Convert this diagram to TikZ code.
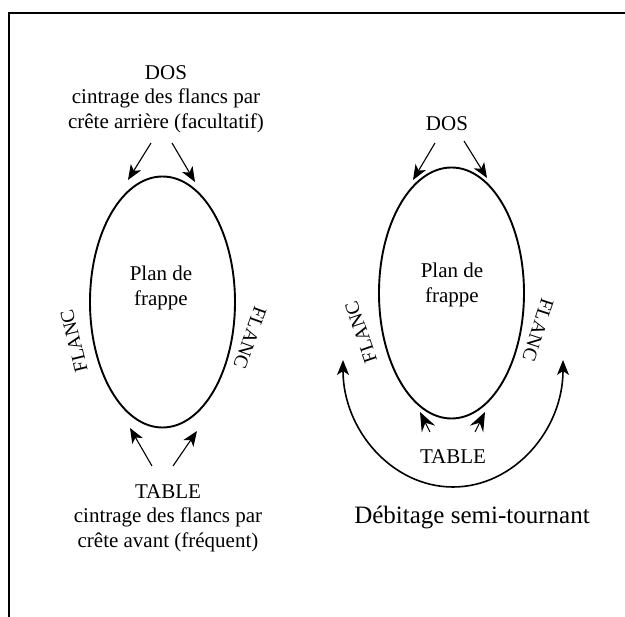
\documentclass[tikz,border=0pt]{standalone}
\usepackage{fontspec}
\setmainfont{Liberation Serif}
\usetikzlibrary{shapes.geometric,arrows.meta,positioning}

\begin{document}
\begin{tikzpicture}[
    x=1pt, y=1pt,
    egg/.style={ellipse, draw=black, line width=1.9pt, minimum width=145pt, minimum height=251pt, inner sep=0pt},
    lbl/.style={font=\fontsize{21}{24.5}\selectfont, align=center, inner sep=0pt},
    flanc/.style={font=\fontsize{19.5}{22}\selectfont, inner sep=0pt},
    arrow/.style={-{Stealth[length=15pt, width=12pt, inset=4pt]}, line width=1.1pt},
    spike/.style={-{Stealth[length=19pt, width=15pt, inset=7pt]}, line width=1.1pt},
    bigarc/.style={{Stealth[length=15pt, width=12pt, inset=4pt]}-{Stealth[length=15pt, width=12pt, inset=4pt]}, line width=1.6pt}
]
    \useasboundingbox (0,0) rectangle (625,-617);
    % Frame
    \draw[line width=2pt] (9,-617) -- (9,-13) -- (626,-13);

    % Left: cintrage
    \node[egg] (eggL) at (162.5,-302) {};
    \node[lbl] (planL) at (161,-288) {Plan de\\frappe};
    \node[lbl] (dosL) at (166,-99) {DOS\\cintrage des flancs par\\crête arrière (facultatif)};
    \node[lbl] (tableL) at (168,-518) {TABLE\\cintrage des flancs par\\crête avant (fréquent)};
    \node[flanc, rotate=104] (flancLL) at (74,-341) {FLANC};
    \node[flanc, rotate=-110] (flancLR) at (250,-338) {FLANC};

    % Right: semi-tournant
    \node[egg] (eggR) at (451.5,-293) {};
    \node[lbl] (planR) at (452,-285) {Plan de\\frappe};
    \node[lbl] (dosR) at (447,-124) {DOS};
    \node[lbl] (tableR) at (453,-457) {TABLE};
    \node[flanc, rotate=109] (flancRL) at (361,-332) {FLANC};
    \node[flanc, rotate=-108] (flancRR) at (538,-330) {FLANC};
    \node[font=\fontsize{25}{30}\selectfont, inner sep=0pt] (debitage) at (472,-518) {Débitage semi-tournant};

    % Arrow ends
    \coordinate (dosL1) at (151,-143);
    \coordinate (dosL2) at (172,-143);
    \coordinate (eggL1) at (128,-180);
    \coordinate (eggL2) at (195,-182);
    \coordinate (tabL1) at (152,-466);
    \coordinate (tabL2) at (173,-466);
    \coordinate (eggL3) at (130,-428);
    \coordinate (eggL4) at (197,-431);
    \coordinate (dosR1) at (435,-143);
    \coordinate (dosR2) at (464,-141);
    \coordinate (eggR1) at (413,-180);
    \coordinate (eggR2) at (487,-178);
    \coordinate (tabR1) at (430,-432);
    \coordinate (tabR2) at (475,-432);
    \coordinate (eggR3) at (420,-412);
    \coordinate (eggR4) at (485,-412);
    \coordinate (arcL) at (343,-360);

    % Arrows
    \draw[arrow] (dosL1) -- (eggL1);
    \draw[arrow] (dosL2) -- (eggL2);
    \draw[arrow] (tabL1) -- (eggL3);
    \draw[arrow] (tabL2) -- (eggL4);
    \draw[arrow] (dosR1) -- (eggR1);
    \draw[arrow] (dosR2) -- (eggR2);
    \draw[spike] (tabR1) -- (eggR3);
    \draw[spike] (tabR2) -- (eggR4);
    \draw[bigarc] (arcL) arc[start angle=180, end angle=360, x radius=110, y radius=127];
\end{tikzpicture}
\end{document}
